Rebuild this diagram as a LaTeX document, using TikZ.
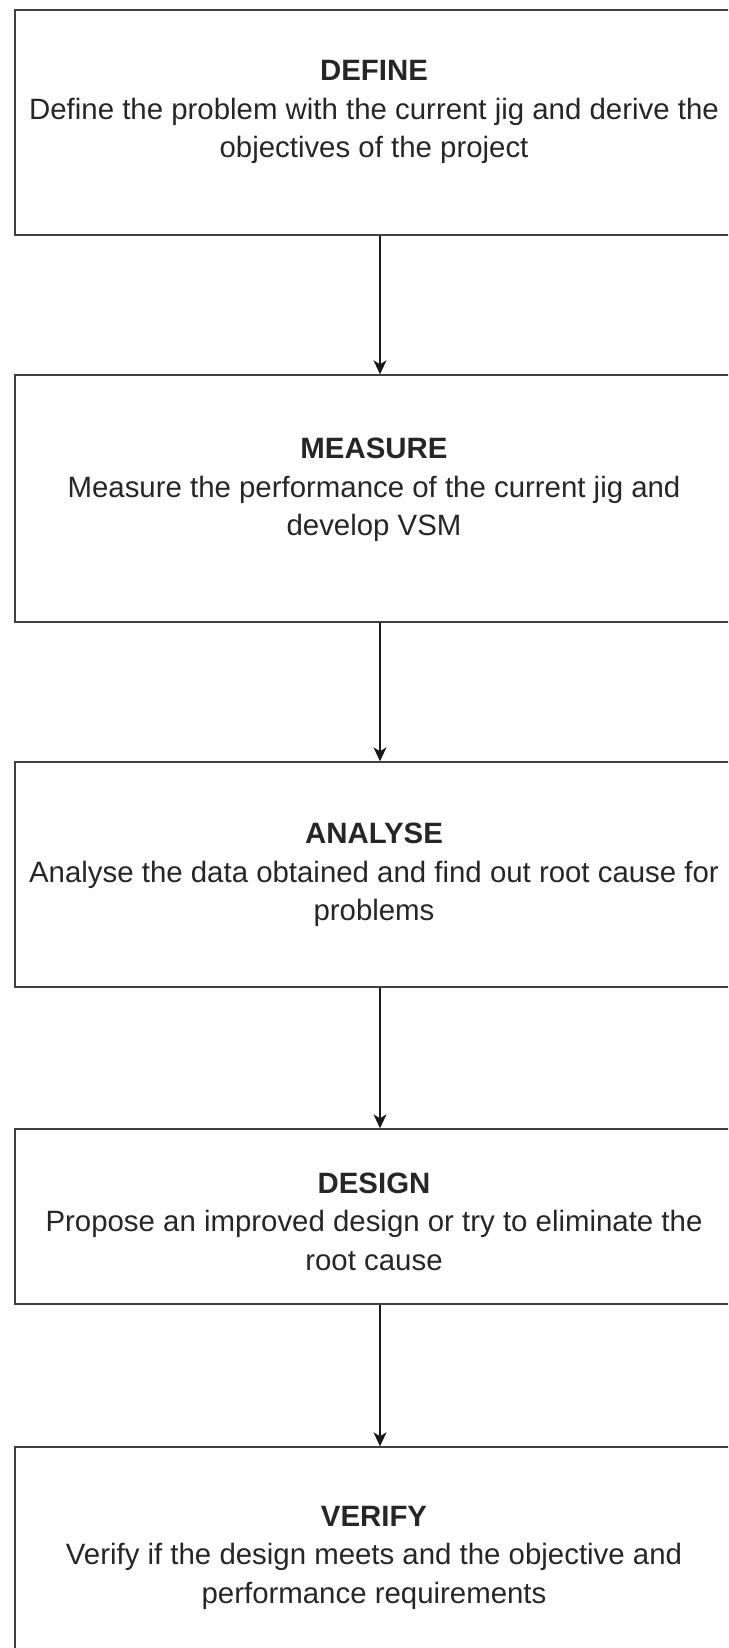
\documentclass[tikz,border=0pt]{standalone}
\usepackage{fontspec}
\setmainfont{Liberation Sans}
\usetikzlibrary{arrows.meta}

\begin{document}
\begin{tikzpicture}[x=1pt,y=-1pt,
	stagebox/.style={draw=black!75, line width=1.4pt, minimum width=730pt, inner sep=0pt},
	stagetext/.style={align=center, text=black!85, inner sep=0pt, font=\fontsize{29.4}{38.5}\selectfont},
	flow/.style={line width=1.3pt, draw=black!90, -{Stealth[length=14pt,width=13pt,inset=4pt]}}]
		\useasboundingbox (0,0) rectangle (728,1648);
		\clip (0,0) rectangle (728,1648);
		% boxes
		\node[stagebox, minimum height=225pt] (define) at (380,122.5) {};
		\node[stagebox, minimum height=247pt] (measure) at (380,498.5) {};
		\node[stagebox, minimum height=225pt] (analyse) at (380,874.5) {};
		\node[stagebox, minimum height=175pt] (design) at (380,1216.5) {};
		\node[stagebox, minimum height=212pt] (verify) at (380,1553) {};
		% texts
		\node[stagetext] (define text) at (374,112)
			{\textbf{DEFINE}\\Define the problem with the current jig and derive the\\objectives of the project};
		\node[stagetext] (measure text) at (374,490)
			{\textbf{MEASURE}\\Measure the performance of the current jig and\\develop VSM};
		\node[stagetext] (analyse text) at (374,875)
			{\textbf{ANALYSE}\\Analyse the data obtained and find out root cause for\\problems};
		\node[stagetext] (design text) at (374,1221.5)
			{\textbf{DESIGN}\\Propose an improved design or try to eliminate the\\root cause};
		\node[stagetext] (verify text) at (374,1557.5)
			{\textbf{VERIFY}\\Verify if the design meets and the objective and\\performance requirements};
		% arrows
		\draw[flow] (define) -- (measure);
		\draw[flow] (measure) -- (analyse);
		\draw[flow] (analyse) -- (design);
		\draw[flow] (design) -- (verify);
	\end{tikzpicture}
\end{document}
